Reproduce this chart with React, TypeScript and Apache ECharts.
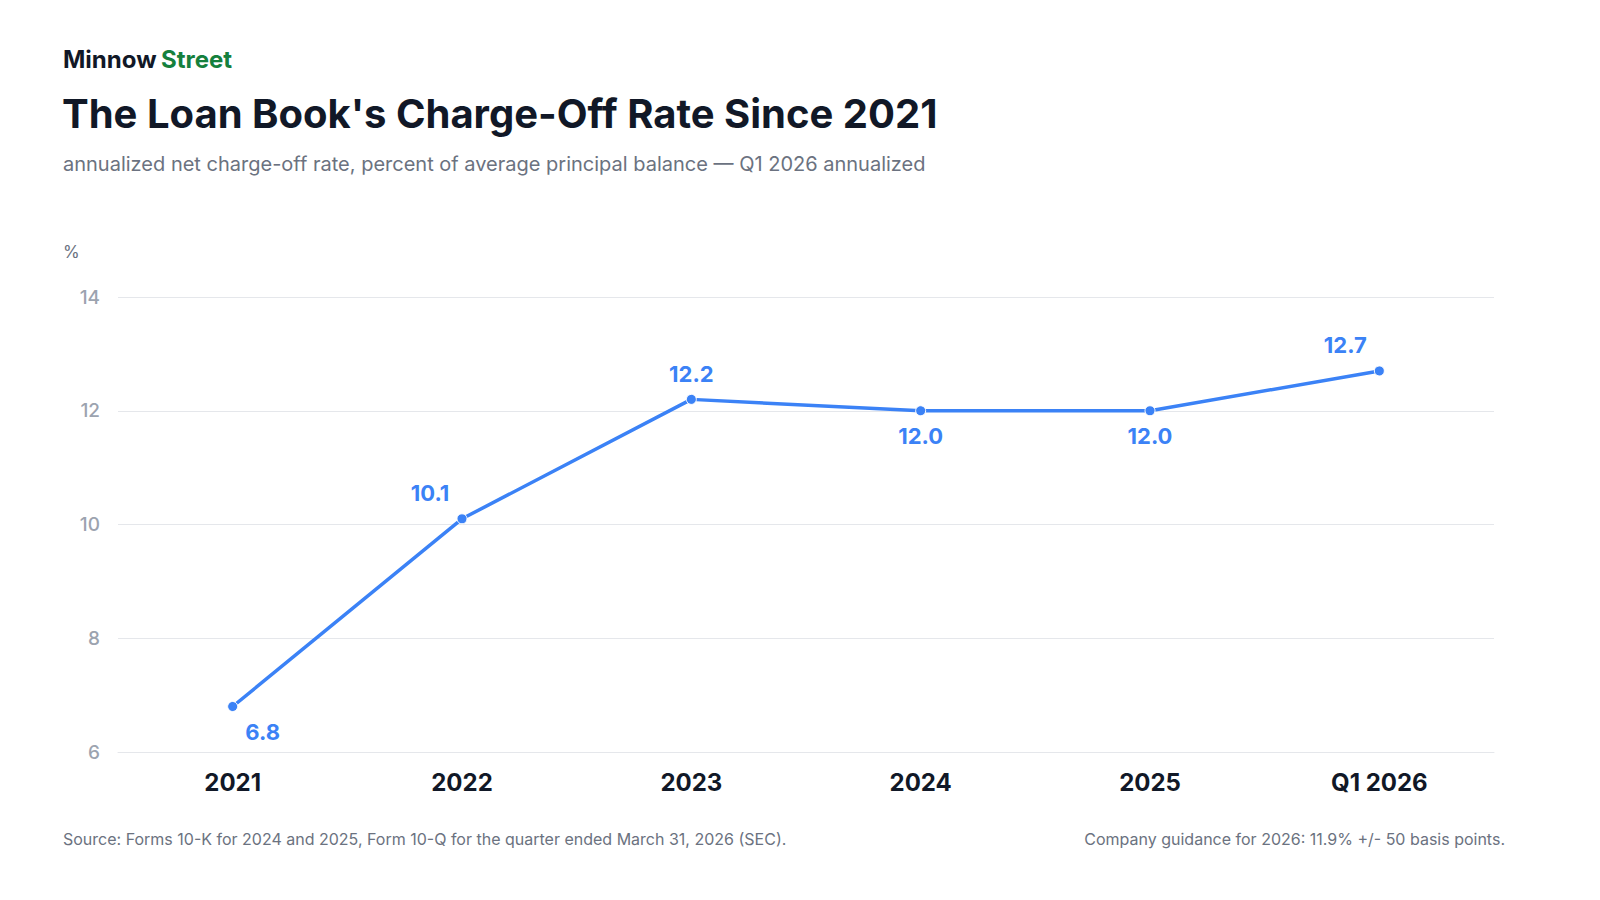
import React, { useEffect, useRef } from "react";
import * as echarts from "echarts";

const categories = ["2021", "2022", "2023", "2024", "2025", "Q1 2026"];
const rates = [6.8, 10.1, 12.2, 12.0, 12.0, 12.7];
const labelPos: any[] = [
  { position: "bottom", offset: [30, 4] },
  { position: "top", offset: [-32, -4] },
  { position: "top", offset: [0, -4] },
  { position: "bottom", offset: [0, 4] },
  { position: "bottom", offset: [0, 4] },
  { position: "top", offset: [-34, -4] },
];

export default function App() {
  const ref = useRef<HTMLDivElement>(null);
  useEffect(() => {
    const chart = echarts.init(ref.current!, null, { renderer: "svg" });
    const font = "Inter, 'Noto Sans', sans-serif";
    chart.setOption({
      animation: false,
      textStyle: { fontFamily: font },
      graphic: [
        { type: "text", left: 63, top: 47, style: { text: "Minnow", fontSize: 24, fontWeight: 700, fill: "#111827", fontFamily: font } },
        { type: "text", left: 161, top: 47, style: { text: "Street", fontSize: 24, fontWeight: 700, fill: "#15803d", fontFamily: font } },
        { type: "text", left: 62, top: 93, style: { text: "The Loan Book's Charge-Off Rate Since 2021", fontSize: 40, fontWeight: 700, fill: "#111827", fontFamily: font } },
        { type: "text", left: 63, top: 154, style: { text: "annualized net charge-off rate, percent of average principal balance — Q1 2026 annualized", fontSize: 20, fill: "#6b7280", fontFamily: font } },
        { type: "text", left: 63, top: 243, style: { text: "%", fontSize: 17, fill: "#6b7280", fontFamily: font } },
        { type: "text", left: 63, top: 831, style: { text: "Source: Forms 10-K for 2024 and 2025, Form 10-Q for the quarter ended March 31, 2026 (SEC).", fontSize: 16, fill: "#6b7280", fontFamily: font } },
        { type: "text", right: 95, top: 831, style: { text: "Company guidance for 2026: 11.9% +/- 50 basis points.", fontSize: 16, fill: "#6b7280", fontFamily: font, align: "right" } },
      ],
      grid: { left: 118, right: 106, top: 297, bottom: 148 },
      xAxis: {
        type: "category",
        data: categories,
        boundaryGap: true,
        axisLine: { lineStyle: { color: "#e5e7eb" } },
        axisTick: { show: false },
        axisLabel: { fontSize: 24, fontWeight: 700, color: "#111827", margin: 18 },
      },
      yAxis: {
        type: "value",
        min: 6,
        max: 14,
        interval: 2,
        axisLine: { show: false },
        axisTick: { show: false },
        splitLine: { lineStyle: { color: "#e5e7eb" } },
        axisLabel: { fontSize: 19, fontWeight: 500, color: "#9ca3af", margin: 18 },
      },
      series: [
        {
          type: "line",
          data: rates.map((v, i) => ({ value: v, label: labelPos[i] })),
          symbol: "circle",
          symbolSize: 10,
          lineStyle: { color: "#3b82f6", width: 3.5 },
          itemStyle: { color: "#3b82f6", borderColor: "#fff", borderWidth: 1 },
          label: { show: true, fontSize: 22, fontWeight: 700, color: "#3b82f6", formatter: (p: any) => p.value.toFixed(1) },
        },
      ],
    });
    return () => chart.dispose();
  }, []);
  return <div ref={ref} style={{ position: "absolute", left: 0, top: 0, width: 1600, height: 900, background: "#fff" }} />;
}
